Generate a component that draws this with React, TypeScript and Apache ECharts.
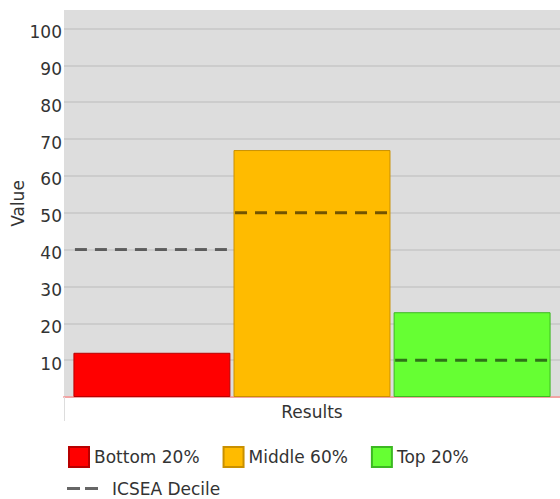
import React, { useEffect, useRef } from "react";
import * as echarts from "echarts";

const categories = ["Results"];
const seriesNames = ["Bottom 20%", "Middle 60%", "Top 20%"];
const seriesValues = [12, 67, 23];
const seriesColors = ["#ff0000", "#ffbb00", "#66ff33"];
const seriesBorders = ["#b80000", "#c99000", "#3cb822"];
const decileName = "ICSEA Decile";
const decileValues = [40, 50, 10];
const yTicks = [10, 20, 30, 40, 50, 60, 70, 80, 90, 100];

const FONT = "DejaVu Sans";
const CAT_GAP = 0.038;
const BAR_GAP = 0.02;

export default function App() {
  const ref = useRef<HTMLDivElement>(null);
  useEffect(() => {
    if (!ref.current) return;
    const chart = echarts.init(ref.current, null, { renderer: "svg" });
    const n = seriesNames.length;
    const barSeries = seriesNames.map((name, i) => ({
      name,
      type: "bar",
      data: [seriesValues[i]],
      barGap: BAR_GAP * 100 + "%",
      barCategoryGap: CAT_GAP * 100 + "%",
      itemStyle: { color: seriesColors[i], borderColor: seriesBorders[i], borderWidth: 1 },
      z: 2,
    }));
    const decileData = decileValues.map((v, i) => [0, v, i]);
    const option: any = {
      animation: false,
      backgroundColor: "#ffffff",
      textStyle: { fontFamily: FONT },
      grid: {
        left: 64,
        right: 0,
        top: 10,
        bottom: 102,
        show: true,
        backgroundColor: "#dddddd",
        borderWidth: 0,
        outerBoundsMode: "none",
        containLabel: false,
      },
      legend: [
        {
          data: seriesNames,
          left: 68,
          top: 446,
          padding: 0,
          itemWidth: 20,
          itemHeight: 20,
          itemGap: 23,
          icon: "rect",
          textStyle: { fontFamily: FONT, fontSize: 17, color: "#333" },
          selectedMode: false,
        },
        {
          data: [
            {
              name: decileName,
              icon: "path://M0,0h13v3h-13zM18,0h13v3h-13zM40,0L40,3",
              itemStyle: { color: "#666666" },
            },
          ],
          left: 67,
          top: 480,
          padding: 0,
          itemWidth: 40,
          itemHeight: 3,
          textStyle: { fontFamily: FONT, fontSize: 17, color: "#333" },
          selectedMode: false,
        },
      ],
      xAxis: {
        type: "category",
        data: categories,
        axisLine: { show: true, lineStyle: { color: "#f2a4a4", width: 2 } },
        axisTick: { show: true, length: 24, lineStyle: { color: "#dddddd", width: 1 } },
        axisLabel: { fontFamily: FONT, fontSize: 17, color: "#333", margin: 6 },
        splitLine: { show: false },
      },
      yAxis: {
        type: "value",
        min: 0,
        max: 105,
        interval: 10,
        name: "Value",
        nameLocation: "middle",
        nameRotate: 90,
        nameGap: 38,
        nameMoveOverlap: false,
        nameTextStyle: { fontFamily: FONT, fontSize: 17, color: "#333" },
        axisLine: { show: false },
        axisTick: { show: false },
        axisLabel: {
          fontFamily: FONT,
          fontSize: 17,
          color: "#333",
          margin: 2,
          formatter: (v: number) => (yTicks.indexOf(v) >= 0 ? "{a|" + v + "}" : ""),
          rich: {
            a: {
              fontFamily: FONT,
              fontSize: 17,
              color: "#333",
              lineHeight: 24,
              verticalAlign: "bottom",
            },
          },
        },
        splitLine: {
          show: true,
          showMinLine: false,
          showMaxLine: false,
          lineStyle: { color: "#cccccc", width: 2 },
        },
      },
      series: [
        ...barSeries,
        {
          name: decileName,
          type: "custom",
          data: decileData,
          encode: { x: 0, y: 1 },
          itemStyle: { color: "#666666" },
          z: 5,
          renderItem: (params: any, api: any) => {
            const cat = api.value(0);
            const val = api.value(1);
            const idx = api.value(2);
            const pt = api.coord([cat, val]);
            const band = api.size([1, 0])[0];
            const usable = band * (1 - CAT_GAP);
            const bw = usable / (n + (n - 1) * BAR_GAP);
            const start = pt[0] - usable / 2 + idx * bw * (1 + BAR_GAP);
            return {
              type: "line",
              shape: { x1: start + 1.5, y1: pt[1], x2: start + bw - 1.5, y2: pt[1] },
              style: { stroke: "rgba(0,0,0,0.55)", lineWidth: 3, lineDash: [12, 8] },
            };
          },
        },
      ],
    };
    chart.setOption(option);
    return () => chart.dispose();
  }, []);
  return (
    <div
      ref={ref}
      style={{ position: "absolute", left: 0, top: 0, width: 560, height: 499 }}
    />
  );
}
